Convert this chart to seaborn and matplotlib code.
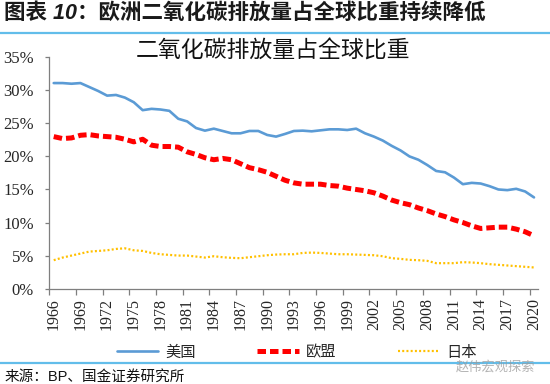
import matplotlib
matplotlib.use("Agg")
import matplotlib.pyplot as plt
import seaborn as sns
import pandas as pd
from matplotlib.lines import Line2D
from matplotlib.ticker import FixedLocator, PercentFormatter

# Share of global CO2 emissions (%)
years = list(range(1966, 2021))

us = [31.1, 31.1, 31.0, 31.1, 30.5, 29.9, 29.2, 29.3, 28.9, 28.2,
      27.0, 27.2, 27.1, 26.9, 25.7, 25.3, 24.3, 23.9, 24.2, 23.85,
      23.5, 23.5, 23.85, 23.85, 23.25, 23.0, 23.4, 23.85, 23.9, 23.8,
      23.95, 24.1, 24.1, 24.0, 24.2, 23.5, 23.0, 22.4, 21.6, 20.9,
      20.0, 19.5, 18.7, 17.8, 17.6, 16.8, 15.8, 16.0, 15.9, 15.5,
      15.0, 14.9, 15.1, 14.7, 13.8]

eu = [23.0, 22.7, 22.8, 23.2, 23.3, 23.1, 23.0, 22.9, 22.6, 22.2,
      22.6, 21.7, 21.5, 21.5, 21.4, 20.7, 20.3, 19.8, 19.5, 19.7,
      19.5, 18.9, 18.3, 18.0, 17.6, 17.0, 16.4, 16.0, 15.8, 15.8,
      15.8, 15.6, 15.5, 15.2, 15.0, 14.8, 14.5, 14.0, 13.4, 13.0,
      12.7, 12.2, 11.8, 11.3, 10.9, 10.4, 10.0, 9.5, 9.1, 9.2,
      9.3, 9.3, 9.0, 8.6, 8.0]

japan = [4.3, 4.7, 5.0, 5.3, 5.6, 5.7, 5.8, 6.0, 6.1, 5.8,
         5.7, 5.4, 5.2, 5.1, 5.0, 5.0, 4.85, 4.7, 4.9, 4.75,
         4.65, 4.6, 4.75, 4.9, 5.05, 5.15, 5.2, 5.2, 5.4, 5.45,
         5.4, 5.3, 5.2, 5.2, 5.15, 5.1, 5.05, 4.9, 4.6, 4.5,
         4.35, 4.3, 4.2, 3.85, 3.85, 3.85, 4.0, 3.95, 3.85, 3.7,
         3.6, 3.5, 3.4, 3.3, 3.2]

names = ["美国", "欧盟", "日本"]
colors = ["#5B9BD5", "#FF0000", "#FFC000"]

df = pd.DataFrame({"year": years, "美国": us, "欧盟": eu, "日本": japan})
long_df = df.melt(id_vars="year", var_name="country", value_name="share")

sns.set_style("white")
plt.rcParams["font.family"] = ["Liberation Serif", "Noto Sans CJK SC", "DejaVu Sans"]

fig = plt.figure(figsize=(5.5, 3.84), dpi=100)
ax = fig.add_axes([0.0896, 0.2484, 0.8894, 0.6024])

# one call per series so each keeps its own line style
styles = {
    "美国": dict(linewidth=1.9, linestyle="-"),
    "欧盟": dict(linewidth=3.6, linestyle=(0, (1.7, 0.8))),
    "日本": dict(linewidth=1.6, linestyle=(0, (0.9, 1.0))),
}
for name, col in zip(names, colors):
    sns.lineplot(data=long_df[long_df["country"] == name], x="year", y="share",
                 color=col, ax=ax, legend=False, **styles[name])

ax.set_xlim(1965.5, 2020.5)
ax.set_ylim(0, 35)
ax.set_xlabel("")
ax.set_ylabel("")

# labels at category centres, tick marks between categories
label_years = years[::3]
ax.set_xticks(label_years)
ax.set_xticklabels([str(y) for y in label_years], rotation=90, fontsize=11.5)
ax.xaxis.set_minor_locator(FixedLocator([y - 0.5 for y in label_years]))
ax.tick_params(axis="x", which="major", length=0, pad=7)
ax.tick_params(axis="x", which="minor", length=4, width=0.9, color="#7f7f7f",
               direction="out", bottom=True)

ax.set_yticks(range(0, 36, 5))
ax.yaxis.set_major_formatter(PercentFormatter(decimals=0))
ax.tick_params(axis="y", length=3, width=0.9, color="#7f7f7f", direction="out",
               pad=8, labelsize=12, left=True)

sns.despine(ax=ax)
for side in ["left", "bottom"]:
    ax.spines[side].set_color("#7f7f7f")
    ax.spines[side].set_linewidth(0.9)

# chart title
fig.text(0.496, 0.868, "二氧化碳排放量占全球比重", ha="center", va="center",
         fontsize=16.5, color="#111111", family=["Noto Sans CJK SC"])

# header and footer
fig.text(0.008, 0.965, "图表 10：欧洲二氧化碳排放量占全球比重持续降低", ha="left", va="center",
         fontsize=15.5, fontweight="bold", style="italic", color="#1a1a1a",
         family=["Liberation Sans", "Noto Sans CJK SC"])
fig.add_artist(Line2D([0, 1], [0.913, 0.913], transform=fig.transFigure,
                      color="#62BDEA", linewidth=1.6))
fig.add_artist(Line2D([0, 1], [0.055, 0.055], transform=fig.transFigure,
                      color="#62BDEA", linewidth=1.6))
fig.text(0.008, 0.018, "来源：BP、国金证券研究所", ha="left", va="center",
         fontsize=10.5, color="#111111", family=["Liberation Sans", "Noto Sans CJK SC"])
fig.text(0.9, 0.043, "赵伟宏观探索", ha="center", va="center", fontsize=9.5,
         color="#9a9a9a", alpha=0.75, family=["Noto Sans CJK SC"])

# legend
handles = [Line2D([], [], color=c, **styles[n]) for n, c in zip(names, colors)]
fig.legend(handles, names, loc="center", bbox_to_anchor=(0.54, 0.083), ncol=3,
           frameon=False, handlelength=2.7, handletextpad=0.5,
           columnspacing=4.0, prop={"family": ["Noto Sans CJK SC"], "size": 11})

fig.savefig("out.png", dpi=100)
